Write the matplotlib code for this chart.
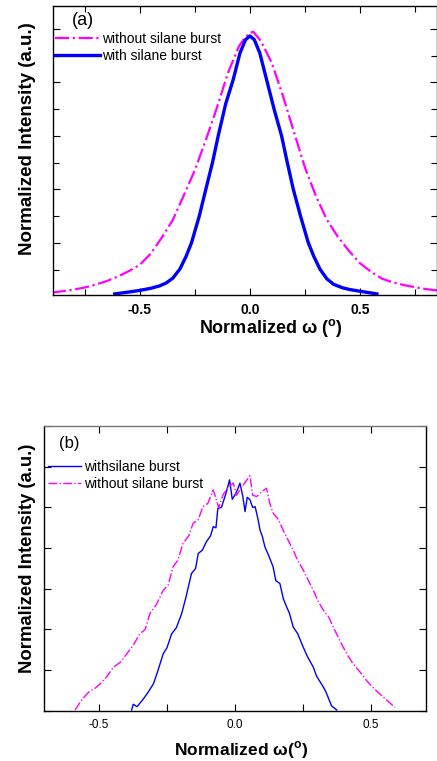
import numpy as np
import matplotlib
matplotlib.use("Agg")
import matplotlib.pyplot as plt
from matplotlib.ticker import MultipleLocator, NullFormatter

plt.rcParams['font.family'] = ['Liberation Sans', 'DejaVu Sans']
plt.rcParams['axes.unicode_minus'] = False

# ---- panel (a) data ----
a_without_x = [-0.9, -0.85, -0.8, -0.75, -0.7, -0.65, -0.6, -0.55, -0.5, -0.45, -0.4,
               -0.35, -0.3, -0.25, -0.2, -0.15, -0.1, -0.05, -0.025, 0.0, 0.015, 0.05,
               0.1, 0.15, 0.2, 0.25, 0.3, 0.35, 0.4, 0.45, 0.5, 0.55, 0.6, 0.65, 0.7,
               0.75, 0.8, 0.85]
a_without_y = [0.014, 0.019, 0.025, 0.033, 0.044, 0.057, 0.074, 0.094, 0.118, 0.160, 0.220,
               0.286, 0.378, 0.472, 0.585, 0.705, 0.835, 0.935, 0.965, 0.985, 0.99, 0.955,
               0.872, 0.75, 0.615, 0.482, 0.375, 0.286, 0.222, 0.17, 0.124, 0.092, 0.066,
               0.052, 0.042, 0.034, 0.027, 0.022]

a_with_x = [-0.614, -0.55, -0.5, -0.45, -0.41, -0.38, -0.35, -0.318, -0.29, -0.265, -0.23,
            -0.2, -0.17, -0.144, -0.11, -0.076, -0.045, -0.02, 0.0, 0.02, 0.045, 0.076,
            0.11, 0.144, 0.17, 0.197, 0.23, 0.265, 0.29, 0.318, 0.35, 0.38, 0.42, 0.455,
            0.5, 0.577]
a_with_y = [0.009, 0.016, 0.022, 0.030, 0.039, 0.050, 0.068, 0.102, 0.149, 0.201, 0.30,
            0.401, 0.50, 0.60, 0.72, 0.81, 0.91, 0.96, 0.974, 0.96, 0.91, 0.81,
            0.70, 0.60, 0.50, 0.401, 0.30, 0.201, 0.15, 0.102, 0.065, 0.045, 0.032, 0.025,
            0.019, 0.009]

# ---- panel (b) data ----
b_with_x = [-0.38, -0.374, -0.36, -0.337, -0.32, -0.3, -0.285, -0.264, -0.25, -0.233, -0.215,
            -0.196, -0.18, -0.16, -0.145, -0.135, -0.12, -0.105, -0.09, -0.08, -0.07, -0.063,
            -0.05, -0.033, -0.02, -0.01, 0.0, 0.01, 0.018, 0.028, 0.037, 0.045, 0.055, 0.065,
            0.074, 0.085, 0.092, 0.1, 0.11, 0.125, 0.14, 0.15, 0.165, 0.178, 0.19, 0.2, 0.214,
            0.23, 0.251, 0.265, 0.288, 0.3, 0.325, 0.335, 0.355, 0.374]
b_with_y = [0.02, 0.16, 0.1, 0.29, 0.45, 0.66, 0.95, 1.4, 1.55, 1.89, 2.05,
            2.39, 2.8, 3.375, 3.5, 3.87, 3.95, 4.16, 4.3, 4.53, 4.5, 4.98,
            5.0, 5.35, 5.68, 5.2, 5.31, 5.45, 5.6, 5.3, 4.9, 5.25, 5.19, 5.0,
            5.02, 4.7, 4.44, 4.3, 4.03, 3.8, 3.54, 3.2, 3.13, 2.75, 2.55, 2.4, 2.06,
            1.9, 1.56, 1.35, 1.07, 0.85, 0.58, 0.45, 0.12, 0.02]

b_without_x = [-0.588, -0.56, -0.533, -0.515, -0.496, -0.47, -0.447, -0.42, -0.398, -0.375,
               -0.35, -0.33, -0.313, -0.29, -0.264, -0.245, -0.228, -0.21, -0.191, -0.17,
               -0.154, -0.135, -0.118, -0.1, -0.08, -0.06, -0.044, -0.025, -0.006, 0.005,
               0.018, 0.035, 0.055, 0.065, 0.08, 0.1, 0.116, 0.128, 0.14, 0.16, 0.177,
               0.195, 0.214, 0.23, 0.251, 0.27, 0.288, 0.305, 0.325, 0.345, 0.361, 0.38,
               0.398, 0.415, 0.435, 0.46, 0.484, 0.51, 0.533, 0.56, 0.588]
b_without_y = [0.02, 0.3, 0.49, 0.55, 0.66, 0.85, 1.07, 1.2, 1.4, 1.6,
               1.89, 2.0, 2.39, 2.6, 2.96, 3.1, 3.54, 3.7, 4.12, 4.3,
               4.61, 4.7, 5.02, 5.1, 5.43, 5.0, 5.31, 5.5, 5.6, 5.3,
               5.43, 5.6, 5.78, 5.3, 5.27, 5.4, 5.47, 5.1, 4.86, 4.7, 4.44,
               4.2, 3.95, 3.7, 3.46, 3.2, 2.96, 2.7, 2.47, 2.3, 2.06, 1.8,
               1.56, 1.35, 1.15, 0.95, 0.74, 0.55, 0.41, 0.25, 0.08]

magenta = '#ff00ff'
blue = '#0000ff'

fig = plt.figure(figsize=(4.37, 7.61), dpi=100)

# ---------------- (a) ----------------
ax1 = fig.add_axes([0.121, 0.6124, 0.879, 0.3797])
ax1.plot(a_without_x, a_without_y, color=magenta, lw=1.6, ls='-.', label='without silane burst')
ax1.plot(a_with_x, a_with_y, color=blue, lw=2.4, label='with silane burst')
ax1.set_xlim(-0.895, 0.85)
ax1.set_ylim(0.005, 1.086)
ax1.xaxis.set_major_locator(MultipleLocator(0.5))
ax1.xaxis.set_minor_locator(MultipleLocator(0.25))
ax1.yaxis.set_major_locator(MultipleLocator(0.2))
ax1.yaxis.set_minor_locator(MultipleLocator(0.1))
ax1.yaxis.set_major_formatter(NullFormatter())
ax1.tick_params(which='both', direction='in', top=True, right=True, width=0.8)
ax1.tick_params(which='major', length=5)
ax1.tick_params(which='minor', length=4)
ax1.tick_params(axis='x', labelsize=10, pad=6)
for t in ax1.get_xticklabels():
    t.set_fontweight('bold')
ax1.set_xlabel('Normalized ω ($^{\\mathregular{o}}$)', fontsize=13, fontweight='bold')
ax1.xaxis.set_label_coords(0.568, -0.076)
ax1.set_ylabel('Normalized Intensity (a.u.)', fontsize=13.5, fontweight='bold')
ax1.yaxis.set_label_coords(-0.045, 0.54)
ax1.text(0.05, 0.935, '(a)', transform=ax1.transAxes, fontsize=13)
ax1.legend(loc='upper left', bbox_to_anchor=(-0.01, 0.93), frameon=False, fontsize=10,
           handlelength=3.3, handletextpad=0.15, labelspacing=0.25, borderaxespad=0)
for s in ax1.spines.values():
    s.set_linewidth(1.0)

# ---------------- (b) ----------------
ax2 = fig.add_axes([0.1007, 0.066, 0.8741, 0.374])
ax2.plot(b_with_x, b_with_y, color=blue, lw=1.0, label='withsilane burst')
ax2.plot(b_without_x, b_without_y, color=magenta, lw=1.0, ls='-.', label='without silane burst')
ax2.set_xlim(-0.702, 0.702)
ax2.set_ylim(0, 7)
ax2.xaxis.set_major_locator(MultipleLocator(0.5))
ax2.xaxis.set_minor_locator(MultipleLocator(0.25))
ax2.yaxis.set_major_locator(MultipleLocator(1))
ax2.yaxis.set_major_formatter(NullFormatter())
ax2.tick_params(which='both', direction='in', top=True, right=True, width=0.8)
ax2.tick_params(which='major', length=5)
ax2.tick_params(which='minor', length=5)
ax2.tick_params(axis='x', labelsize=8.5, pad=6)
ax2.set_xlabel('Normalized ω($^{\\mathregular{o}}$)', fontsize=12.5, fontweight='bold')
ax2.xaxis.set_label_coords(0.516, -0.10)
ax2.set_ylabel('Normalized Intensity (a.u.)', fontsize=13.3, fontweight='bold')
ax2.yaxis.set_label_coords(-0.022, 0.536)
ax2.text(0.04, 0.925, '(b)', transform=ax2.transAxes, fontsize=12)
ax2.legend(loc='upper left', bbox_to_anchor=(-0.005, 0.90), frameon=False, fontsize=10,
           handlelength=2.4, handletextpad=0.2, labelspacing=0.2, borderaxespad=0)
ax2.spines['top'].set_color('#777777')
for s in ax2.spines.values():
    s.set_linewidth(1.0)

fig.savefig('out.png', dpi=100)
